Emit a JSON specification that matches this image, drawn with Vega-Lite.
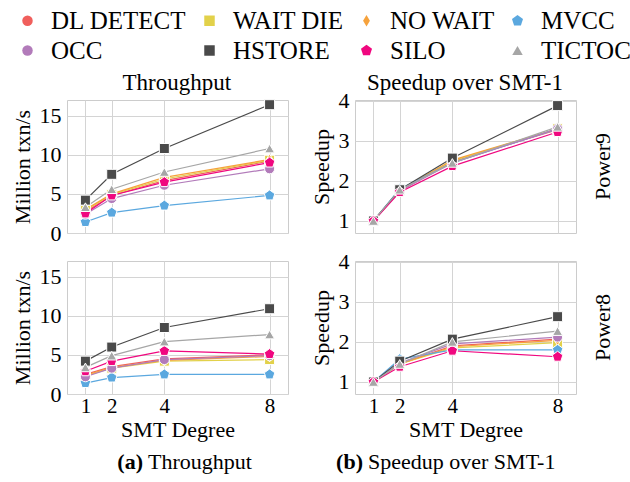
{
  "$schema": "https://vega.github.io/schema/vega-lite/v6.json",
  "padding": {"left": 5, "top": 8, "right": 5, "bottom": 2},
  "datasets": {
    "tput": [
      {"m":"Power9","s":"DL DETECT","smt":1,"v":2.7},{"m":"Power9","s":"DL DETECT","smt":2,"v":4.8},{"m":"Power9","s":"DL DETECT","smt":4,"v":6.7},{"m":"Power9","s":"DL DETECT","smt":8,"v":9.2},
      {"m":"Power9","s":"WAIT DIE","smt":1,"v":2.9},{"m":"Power9","s":"WAIT DIE","smt":2,"v":4.9},{"m":"Power9","s":"WAIT DIE","smt":4,"v":6.9},{"m":"Power9","s":"WAIT DIE","smt":8,"v":9.3},
      {"m":"Power9","s":"NO WAIT","smt":1,"v":3.0},{"m":"Power9","s":"NO WAIT","smt":2,"v":5.0},{"m":"Power9","s":"NO WAIT","smt":4,"v":7.1},{"m":"Power9","s":"NO WAIT","smt":8,"v":9.4},
      {"m":"Power9","s":"MVCC","smt":1,"v":1.4},{"m":"Power9","s":"MVCC","smt":2,"v":2.6},{"m":"Power9","s":"MVCC","smt":4,"v":3.5},{"m":"Power9","s":"MVCC","smt":8,"v":4.8},
      {"m":"Power9","s":"OCC","smt":1,"v":2.4},{"m":"Power9","s":"OCC","smt":2,"v":4.4},{"m":"Power9","s":"OCC","smt":4,"v":6.1},{"m":"Power9","s":"OCC","smt":8,"v":8.2},
      {"m":"Power9","s":"HSTORE","smt":1,"v":4.2},{"m":"Power9","s":"HSTORE","smt":2,"v":7.5},{"m":"Power9","s":"HSTORE","smt":4,"v":10.8},{"m":"Power9","s":"HSTORE","smt":8,"v":16.4},
      {"m":"Power9","s":"SILO","smt":1,"v":2.5},{"m":"Power9","s":"SILO","smt":2,"v":4.8},{"m":"Power9","s":"SILO","smt":4,"v":6.5},{"m":"Power9","s":"SILO","smt":8,"v":9.0},
      {"m":"Power9","s":"TICTOC","smt":1,"v":3.3},{"m":"Power9","s":"TICTOC","smt":2,"v":5.6},{"m":"Power9","s":"TICTOC","smt":4,"v":7.8},{"m":"Power9","s":"TICTOC","smt":8,"v":10.8},
      {"m":"Power8","s":"DL DETECT","smt":1,"v":2.5},{"m":"Power8","s":"DL DETECT","smt":2,"v":3.5},{"m":"Power8","s":"DL DETECT","smt":4,"v":4.5},{"m":"Power8","s":"DL DETECT","smt":8,"v":5.0},
      {"m":"Power8","s":"WAIT DIE","smt":1,"v":2.3},{"m":"Power8","s":"WAIT DIE","smt":2,"v":3.3},{"m":"Power8","s":"WAIT DIE","smt":4,"v":4.2},{"m":"Power8","s":"WAIT DIE","smt":8,"v":4.4},
      {"m":"Power8","s":"NO WAIT","smt":1,"v":2.4},{"m":"Power8","s":"NO WAIT","smt":2,"v":3.4},{"m":"Power8","s":"NO WAIT","smt":4,"v":4.3},{"m":"Power8","s":"NO WAIT","smt":8,"v":4.8},
      {"m":"Power8","s":"MVCC","smt":1,"v":1.4},{"m":"Power8","s":"MVCC","smt":2,"v":2.1},{"m":"Power8","s":"MVCC","smt":4,"v":2.5},{"m":"Power8","s":"MVCC","smt":8,"v":2.5},
      {"m":"Power8","s":"OCC","smt":1,"v":2.2},{"m":"Power8","s":"OCC","smt":2,"v":3.3},{"m":"Power8","s":"OCC","smt":4,"v":4.4},{"m":"Power8","s":"OCC","smt":8,"v":4.9},
      {"m":"Power8","s":"HSTORE","smt":1,"v":4.2},{"m":"Power8","s":"HSTORE","smt":2,"v":6.0},{"m":"Power8","s":"HSTORE","smt":4,"v":8.5},{"m":"Power8","s":"HSTORE","smt":8,"v":10.9},
      {"m":"Power8","s":"SILO","smt":1,"v":2.9},{"m":"Power8","s":"SILO","smt":2,"v":4.2},{"m":"Power8","s":"SILO","smt":4,"v":5.5},{"m":"Power8","s":"SILO","smt":8,"v":5.1},
      {"m":"Power8","s":"TICTOC","smt":1,"v":3.4},{"m":"Power8","s":"TICTOC","smt":2,"v":4.9},{"m":"Power8","s":"TICTOC","smt":4,"v":6.7},{"m":"Power8","s":"TICTOC","smt":8,"v":7.6}
    ],
    "spd": [
      {"m":"Power9","s":"DL DETECT","smt":1,"v":1},{"m":"Power9","s":"DL DETECT","smt":2,"v":1.75},{"m":"Power9","s":"DL DETECT","smt":4,"v":2.48},{"m":"Power9","s":"DL DETECT","smt":8,"v":3.28},
      {"m":"Power9","s":"WAIT DIE","smt":1,"v":1},{"m":"Power9","s":"WAIT DIE","smt":2,"v":1.76},{"m":"Power9","s":"WAIT DIE","smt":4,"v":2.5},{"m":"Power9","s":"WAIT DIE","smt":8,"v":3.3},
      {"m":"Power9","s":"NO WAIT","smt":1,"v":1},{"m":"Power9","s":"NO WAIT","smt":2,"v":1.77},{"m":"Power9","s":"NO WAIT","smt":4,"v":2.52},{"m":"Power9","s":"NO WAIT","smt":8,"v":3.3},
      {"m":"Power9","s":"MVCC","smt":1,"v":1},{"m":"Power9","s":"MVCC","smt":2,"v":1.8},{"m":"Power9","s":"MVCC","smt":4,"v":2.45},{"m":"Power9","s":"MVCC","smt":8,"v":3.3},
      {"m":"Power9","s":"OCC","smt":1,"v":1},{"m":"Power9","s":"OCC","smt":2,"v":1.75},{"m":"Power9","s":"OCC","smt":4,"v":2.45},{"m":"Power9","s":"OCC","smt":8,"v":3.3},
      {"m":"Power9","s":"HSTORE","smt":1,"v":1},{"m":"Power9","s":"HSTORE","smt":2,"v":1.78},{"m":"Power9","s":"HSTORE","smt":4,"v":2.57},{"m":"Power9","s":"HSTORE","smt":8,"v":3.88},
      {"m":"Power9","s":"SILO","smt":1,"v":1},{"m":"Power9","s":"SILO","smt":2,"v":1.72},{"m":"Power9","s":"SILO","smt":4,"v":2.37},{"m":"Power9","s":"SILO","smt":8,"v":3.22},
      {"m":"Power9","s":"TICTOC","smt":1,"v":1},{"m":"Power9","s":"TICTOC","smt":2,"v":1.78},{"m":"Power9","s":"TICTOC","smt":4,"v":2.45},{"m":"Power9","s":"TICTOC","smt":8,"v":3.35},
      {"m":"Power8","s":"DL DETECT","smt":1,"v":1},{"m":"Power8","s":"DL DETECT","smt":2,"v":1.45},{"m":"Power8","s":"DL DETECT","smt":4,"v":1.9},{"m":"Power8","s":"DL DETECT","smt":8,"v":2.07},
      {"m":"Power8","s":"WAIT DIE","smt":1,"v":1},{"m":"Power8","s":"WAIT DIE","smt":2,"v":1.45},{"m":"Power8","s":"WAIT DIE","smt":4,"v":1.85},{"m":"Power8","s":"WAIT DIE","smt":8,"v":1.98},
      {"m":"Power8","s":"NO WAIT","smt":1,"v":1},{"m":"Power8","s":"NO WAIT","smt":2,"v":1.45},{"m":"Power8","s":"NO WAIT","smt":4,"v":1.88},{"m":"Power8","s":"NO WAIT","smt":8,"v":2.04},
      {"m":"Power8","s":"MVCC","smt":1,"v":1},{"m":"Power8","s":"MVCC","smt":2,"v":1.57},{"m":"Power8","s":"MVCC","smt":4,"v":1.8},{"m":"Power8","s":"MVCC","smt":8,"v":1.8},
      {"m":"Power8","s":"OCC","smt":1,"v":1},{"m":"Power8","s":"OCC","smt":2,"v":1.47},{"m":"Power8","s":"OCC","smt":4,"v":1.95},{"m":"Power8","s":"OCC","smt":8,"v":2.12},
      {"m":"Power8","s":"HSTORE","smt":1,"v":1},{"m":"Power8","s":"HSTORE","smt":2,"v":1.52},{"m":"Power8","s":"HSTORE","smt":4,"v":2.07},{"m":"Power8","s":"HSTORE","smt":8,"v":2.63},
      {"m":"Power8","s":"SILO","smt":1,"v":1},{"m":"Power8","s":"SILO","smt":2,"v":1.38},{"m":"Power8","s":"SILO","smt":4,"v":1.78},{"m":"Power8","s":"SILO","smt":8,"v":1.63},
      {"m":"Power8","s":"TICTOC","smt":1,"v":1},{"m":"Power8","s":"TICTOC","smt":2,"v":1.45},{"m":"Power8","s":"TICTOC","smt":4,"v":2.0},{"m":"Power8","s":"TICTOC","smt":8,"v":2.27}
    ]
  },
  "config": {
    "font": "Liberation Serif, DejaVu Serif, serif",
    "view": {"stroke": "#cccccc", "strokeWidth": 1},
    "axis": {"labelFont": "Liberation Serif, DejaVu Serif, serif", "titleFont": "Liberation Serif, DejaVu Serif, serif", "labelFontSize": 22, "titleFontSize": 22, "labelColor": "#000000", "titleColor": "#000000", "titleFontWeight": "normal", "domain": false, "ticks": false, "gridColor": "#d4d4d4", "gridWidth": 1, "labelPadding": 5, "titlePadding": 5},
    "axisX": {"labelPadding": 0, "titlePadding": 3, "labelFontSize": 21},
    "title": {"font": "Liberation Serif, DejaVu Serif, serif", "fontSize": 23, "fontWeight": "normal", "color": "#000000", "offset": 2, "anchor": "middle"},
    "header": {"labelFontSize": 22, "labelColor": "#000000", "labelFont": "Liberation Serif, DejaVu Serif, serif"},
    "legend": {"orient": "none", "legendX": -62, "legendY": -92, "direction": "horizontal", "columns": 4, "symbolSize": 110, "labelFontSize": 25, "labelFont": "Liberation Serif, DejaVu Serif, serif", "labelColor": "#000000", "columnPadding": -3, "rowPadding": 4, "labelOffset": 11, "symbolOffset": 10, "symbolStrokeWidth": 0, "padding": 0}
  },
  "vconcat": [
    {
      "hconcat": [
        {
          "data": {"name": "tput"},
          "title": {"text": "Throughput", "dx": 27},
          "facet": {"row": {"field": "m", "type": "nominal", "sort": ["Power9", "Power8"], "header": {"labels": false, "title": null}}},
          "spacing": {"row": 26},
          "spec": {
            "width": 221, "height": 133,
            "encoding": {
              "x": {"field": "smt", "type": "quantitative", "scale": {"domain": [0.3, 8.7], "nice": false}, "axis": {"values": [1, 2, 4, 8], "title": "SMT Degree", "labelFlush": false}},
              "y": {"field": "v", "type": "quantitative", "scale": {"domain": [0, 17], "nice": false}, "axis": {"values": [0, 5, 10, 15], "title": "Million txn/s"}},
              "color": {"field": "s", "type": "nominal", "scale": {"domain": ["DL DETECT", "WAIT DIE", "NO WAIT", "MVCC", "OCC", "HSTORE", "SILO", "TICTOC"], "range": ["#f05f5c", "#e2d14a", "#f6a23c", "#5ba8df", "#b27bba", "#4a4a4a", "#f0077f", "#a6a6a6"]}, "legend": {"title": null}}
            },
            "layer": [
              {"mark": {"type": "line", "strokeWidth": 1.2}},
              {"mark": {"type": "point", "filled": true, "size": 100, "stroke": "white", "strokeWidth": 1, "opacity": 1},
               "encoding": {"shape": {"field": "s", "type": "nominal", "legend": null, "scale": {"domain": ["DL DETECT", "WAIT DIE", "NO WAIT", "MVCC", "OCC", "HSTORE", "SILO", "TICTOC"], "range": ["circle", "square", "M0,-1.1L0.65,0L0,1.1L-0.65,0Z", "M0,-1.1L1.05,-0.34L0.65,0.89L-0.65,0.89L-1.05,-0.34Z", "circle", "square", "M0,-1.1L1.05,-0.34L0.65,0.89L-0.65,0.89L-1.05,-0.34Z", "triangle-up"]}}}}
            ]
          }
        },
        {
          "data": {"name": "spd"},
          "title": {"text": "Speedup over SMT-1", "dx": 3, "dy": 7},
          "facet": {"row": {"field": "m", "type": "nominal", "sort": ["Power9", "Power8"], "header": {"title": null, "labelOrient": "right", "labelAngle": 270, "labelPadding": 16}}},
          "spacing": {"row": 26},
          "spec": {
            "width": 221, "height": 133,
            "encoding": {
              "x": {"field": "smt", "type": "quantitative", "scale": {"domain": [0.3, 8.7], "nice": false}, "axis": {"values": [1, 2, 4, 8], "title": "SMT Degree", "labelFlush": false}},
              "y": {"field": "v", "type": "quantitative", "scale": {"domain": [0.7, 4.02], "nice": false, "zero": false}, "axis": {"values": [1, 2, 3, 4], "title": "Speedup"}},
              "color": {"field": "s", "type": "nominal", "scale": {"domain": ["DL DETECT", "WAIT DIE", "NO WAIT", "MVCC", "OCC", "HSTORE", "SILO", "TICTOC"], "range": ["#f05f5c", "#e2d14a", "#f6a23c", "#5ba8df", "#b27bba", "#4a4a4a", "#f0077f", "#a6a6a6"]}, "legend": {"title": null}}
            },
            "layer": [
              {"mark": {"type": "line", "strokeWidth": 1.2}},
              {"mark": {"type": "point", "filled": true, "size": 100, "stroke": "white", "strokeWidth": 1, "opacity": 1},
               "encoding": {"shape": {"field": "s", "type": "nominal", "legend": null, "scale": {"domain": ["DL DETECT", "WAIT DIE", "NO WAIT", "MVCC", "OCC", "HSTORE", "SILO", "TICTOC"], "range": ["circle", "square", "M0,-1.1L0.65,0L0,1.1L-0.65,0Z", "M0,-1.1L1.05,-0.34L0.65,0.89L-0.65,0.89L-1.05,-0.34Z", "circle", "square", "M0,-1.1L1.05,-0.34L0.65,0.89L-0.65,0.89L-1.05,-0.34Z", "triangle-up"]}}}}
            ]
          }
        }
      ],
      "spacing": 21
    },
    {
      "width": 500, "height": 30,
      "view": {"stroke": null},
      "layer": [
        {"data": {"values": [{"t": "(a)"}]}, "mark": {"type": "text", "fontSize": 22, "fontWeight": "bold", "align": "right", "dx": -174, "font": "Liberation Serif, DejaVu Serif, serif"}, "encoding": {"text": {"field": "t"}}},
        {"data": {"values": [{"t": "Throughput"}]}, "mark": {"type": "text", "fontSize": 22, "align": "left", "dx": -169, "font": "Liberation Serif, DejaVu Serif, serif"}, "encoding": {"text": {"field": "t"}}},
        {"data": {"values": [{"t": "(b)"}]}, "mark": {"type": "text", "fontSize": 22, "fontWeight": "bold", "align": "right", "dx": 46, "font": "Liberation Serif, DejaVu Serif, serif"}, "encoding": {"text": {"field": "t"}}},
        {"data": {"values": [{"t": "Speedup over SMT-1"}]}, "mark": {"type": "text", "fontSize": 22, "align": "left", "dx": 51, "font": "Liberation Serif, DejaVu Serif, serif"}, "encoding": {"text": {"field": "t"}}}
      ]
    }
  ],
  "spacing": 7
}
